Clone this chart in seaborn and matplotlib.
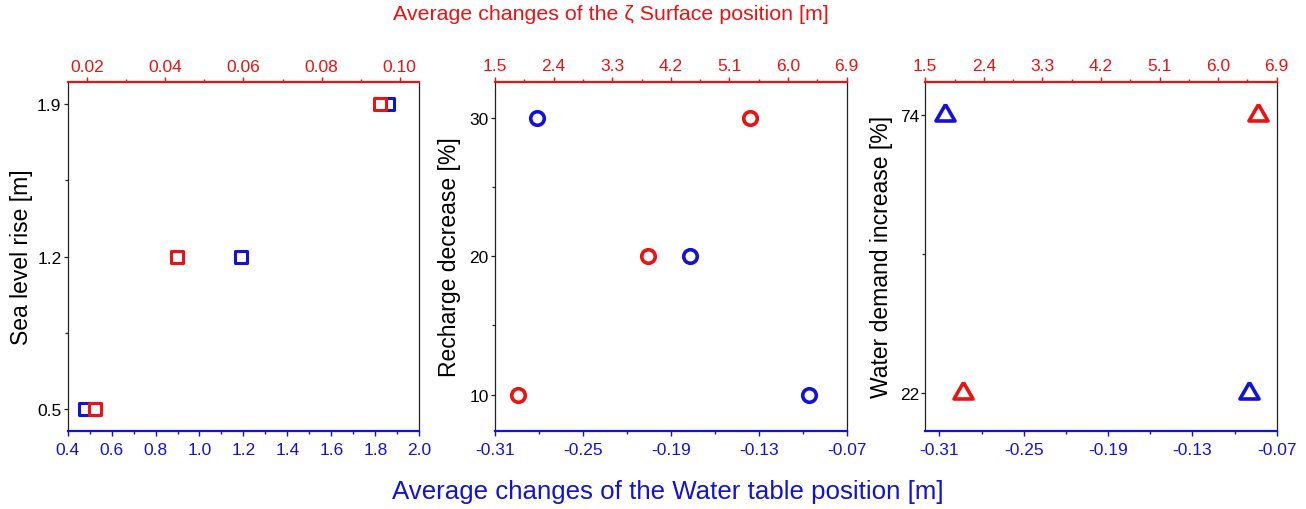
import matplotlib
matplotlib.use("Agg")
import matplotlib.pyplot as plt
import seaborn as sns
import numpy as np
from matplotlib.ticker import FixedLocator, FormatStrFormatter, MultipleLocator

# ---------------- data ----------------
slr_levels = [0.5, 1.2, 1.9]
slr_water_table = [0.48, 1.19, 1.86]
slr_zeta = [0.022, 0.043, 0.095]

recharge_levels = [10, 20, 30]
recharge_water_table = [-0.096, -0.177, -0.281]
recharge_zeta = [1.86, 3.85, 5.42]

demand_levels = [22, 74]
demand_water_table = [-0.090, -0.306]
demand_zeta = [2.08, 6.61]

wt_ticks_2 = [-0.31, -0.25, -0.19, -0.13, -0.07]
zeta_ticks_2 = [1.5, 2.4, 3.3, 4.2, 5.1, 6.0, 6.9]

ylabels = ["Sea level rise [m]", "Recharge decrease [%]", "Water demand increase [%]"]
top_title = "Average changes of the \u03b6 Surface position [m]"
bottom_title = "Average changes of the Water table position [m]"

RED = "#ee1111"
BLUE = "#1212d8"

sns.set_theme(style="ticks")
plt.rcParams["font.family"] = ["Liberation Sans", "DejaVu Sans"]

fig = plt.figure(figsize=(13.06, 5.10), dpi=100)

ax_pos = [
    [0.0518, 0.1535, 0.2692, 0.6831],
    [0.3790, 0.1535, 0.2693, 0.6843],
    [0.7085, 0.1535, 0.2691, 0.6843],
]

sq = "s"
tri = [(0, 1), (-0.866, -0.5), (0.866, -0.5), (0, 1)]

panels = [
    dict(y=slr_levels, wt=slr_water_table, z=slr_zeta, marker=sq, s=85, lw=2.2,
         xlim=(0.4, 2.0), tlim=(0.015, 0.105), ylim=(0.4, 2.0),
         yt=[0.5, 1.2, 1.9], ym=[0.85, 1.55], yfmt="%.1f"),
    dict(y=recharge_levels, wt=recharge_water_table, z=recharge_zeta, marker="o", s=95, lw=2.6,
         xlim=(-0.31, -0.07), tlim=(1.5, 6.9), ylim=(7.4, 32.6),
         yt=[10, 20, 30], ym=[15, 25], yfmt="%d"),
    dict(y=demand_levels, wt=demand_water_table, z=demand_zeta, marker=tri, s=250, lw=2.6,
         xlim=(-0.32, -0.07), tlim=(1.5, 6.9), ylim=(15.0, 80.2),
         yt=[22, 74], ym=[48], yfmt="%d"),
]

label_x = [-0.130, -0.128, -0.126]
TICK_FS = 12.5
LABEL_FS = 16.5
TOP_TITLE_FS = 15.4
BOTTOM_TITLE_FS = 18.6

for i, p in enumerate(panels):
    ax = fig.add_axes(ax_pos[i])
    sns.scatterplot(x=p["wt"], y=p["y"], ax=ax, marker=p["marker"], s=p["s"],
                    facecolor="white", edgecolor=BLUE, linewidth=p["lw"], zorder=3)
    ax.set_xlim(*p["xlim"])
    ax.set_ylim(*p["ylim"])

    axt = ax.twiny()
    sns.scatterplot(x=p["z"], y=p["y"], ax=axt, marker=p["marker"], s=p["s"],
                    facecolor="white", edgecolor=RED, linewidth=p["lw"], zorder=3)
    axt.set_xlim(*p["tlim"])
    axt.set_ylim(*p["ylim"])

    if i == 0:
        ax.xaxis.set_major_locator(MultipleLocator(0.2))
        ax.xaxis.set_minor_locator(MultipleLocator(0.1))
        ax.xaxis.set_major_formatter(FormatStrFormatter("%.1f"))
        axt.xaxis.set_major_locator(FixedLocator([0.02, 0.04, 0.06, 0.08, 0.10]))
        axt.xaxis.set_minor_locator(FixedLocator([0.03, 0.05, 0.07, 0.09]))
        axt.xaxis.set_major_formatter(FormatStrFormatter("%.2f"))
    else:
        ax.xaxis.set_major_locator(FixedLocator(wt_ticks_2))
        ax.xaxis.set_minor_locator(FixedLocator([-0.28, -0.22, -0.16, -0.10]))
        ax.xaxis.set_major_formatter(FormatStrFormatter("%.2f"))
        axt.xaxis.set_major_locator(FixedLocator(zeta_ticks_2))
        axt.xaxis.set_minor_locator(FixedLocator([1.95, 2.85, 3.75, 4.65, 5.55, 6.45]))
        axt.xaxis.set_major_formatter(FormatStrFormatter("%.1f"))

    ax.yaxis.set_major_locator(FixedLocator(p["yt"]))
    ax.yaxis.set_minor_locator(FixedLocator(p["ym"]))
    ax.yaxis.set_major_formatter(FormatStrFormatter(p["yfmt"]))

    ax.set_xlabel("")
    axt.set_xlabel("")
    ax.set_ylabel(ylabels[i], fontsize=LABEL_FS, color="black", va="center")
    ax.yaxis.set_label_coords(label_x[i], 0.5)

    for a in (ax, axt):
        a.spines["left"].set_color("#222222")
        a.spines["right"].set_color("#222222")
        a.spines["left"].set_linewidth(0.9)
        a.spines["right"].set_linewidth(0.9)
        a.spines["bottom"].set_color(BLUE)
        a.spines["bottom"].set_linewidth(1.6)
        a.spines["top"].set_color(RED)
        a.spines["top"].set_linewidth(1.6)
        a.set_facecolor("none")
        a.grid(False)
    ax.spines["top"].set_visible(False)
    axt.spines["bottom"].set_visible(False)
    axt.spines["left"].set_visible(False)
    axt.spines["right"].set_visible(False)

    ax.tick_params(axis="x", which="both", direction="out", colors=BLUE, labelcolor=BLUE,
                   labelsize=TICK_FS, pad=4.5, top=False)
    ax.tick_params(axis="x", which="major", length=3.5, width=1.0)
    ax.tick_params(axis="x", which="minor", length=2.5, width=1.0)
    axt.tick_params(axis="x", which="both", direction="out", colors=RED, labelcolor=RED,
                    labelsize=TICK_FS, pad=2.5)
    axt.tick_params(axis="x", which="major", length=3.5, width=1.0)
    axt.tick_params(axis="x", which="minor", length=2.5, width=1.0)
    ax.tick_params(axis="y", which="both", direction="out", colors="#222222", labelcolor="black",
                   labelsize=TICK_FS, pad=1.5, right=False)
    ax.tick_params(axis="y", which="major", length=3, width=0.9)
    ax.tick_params(axis="y", which="minor", length=2, width=0.9)
    axt.tick_params(axis="y", left=False, right=False, labelleft=False, labelright=False)

fig.text(0.468, 0.971, top_title, color=RED, fontsize=TOP_TITLE_FS, ha="center", va="center")
fig.text(0.5115, 0.035, bottom_title, color=BLUE, fontsize=BOTTOM_TITLE_FS, ha="center", va="center")

fig.savefig("out.png", dpi=100, facecolor="white")
